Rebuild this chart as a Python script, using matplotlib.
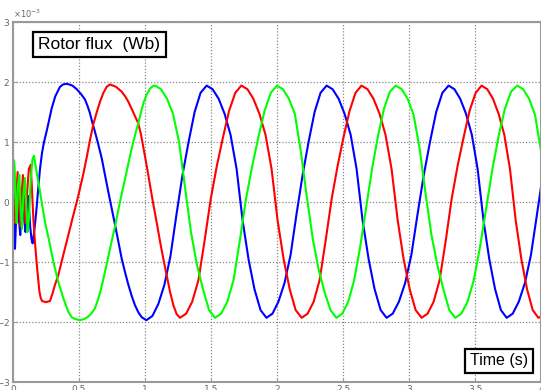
import numpy as np
import matplotlib.pyplot as plt
from matplotlib.ticker import ScalarFormatter

# Rotor flux of the three phases, (time s, flux x1e-3 Wb)
blue_flux = np.array([
    (0.000, 0.10), (0.008, -0.30), (0.015, -0.78), (0.025, -0.20), (0.035, 0.20),
    (0.045, -0.30), (0.055, -0.55), (0.065, -0.10), (0.075, 0.15), (0.085, -0.30),
    (0.095, -0.50), (0.105, -0.10), (0.115, 0.10), (0.130, -0.40), (0.140, -0.62),
    (0.149, -0.69), (0.160, -0.50), (0.170, -0.30), (0.180, -0.07), (0.190, 0.20),
    (0.205, 0.56), (0.220, 0.82), (0.235, 1.00), (0.255, 1.18), (0.275, 1.38),
    (0.293, 1.56), (0.320, 1.76), (0.356, 1.92), (0.380, 1.96), (0.410, 1.97),
    (0.450, 1.94), (0.483, 1.88), (0.515, 1.80), (0.545, 1.71), (0.565, 1.60),
    (0.583, 1.48), (0.600, 1.33), (0.621, 1.17), (0.645, 0.97), (0.672, 0.73),
    (0.697, 0.45), (0.722, 0.17), (0.748, -0.11), (0.773, -0.38), (0.800, -0.68),
    (0.823, -0.94), (0.850, -1.18), (0.874, -1.38), (0.900, -1.57), (0.924, -1.72),
    (0.950, -1.84), (0.975, -1.92), (1.010, -1.97),
    (1.056, -1.90), (1.101, -1.70), (1.147, -1.38), (1.193, -0.90), (1.239, -0.20),
    (1.284, 0.45), (1.330, 1.00), (1.376, 1.50), (1.421, 1.82), (1.467, 1.94),
    (1.512, 1.88), (1.558, 1.72), (1.603, 1.47), (1.648, 1.12), (1.694, 0.55),
    (1.739, -0.30), (1.784, -0.95), (1.829, -1.45), (1.875, -1.80), (1.920, -1.93),
    (1.966, -1.86), (2.011, -1.66), (2.057, -1.35), (2.103, -0.88), (2.148, -0.20),
    (2.194, 0.45), (2.239, 1.00), (2.285, 1.50), (2.330, 1.82), (2.376, 1.94),
    (2.421, 1.88), (2.467, 1.72), (2.512, 1.47), (2.558, 1.12), (2.603, 0.55),
    (2.648, -0.30), (2.694, -0.95), (2.739, -1.45), (2.785, -1.80), (2.830, -1.93),
    (2.877, -1.86), (2.924, -1.66), (2.971, -1.35), (3.018, -0.88), (3.065, -0.20),
    (3.112, 0.45), (3.159, 1.00), (3.206, 1.50), (3.253, 1.82), (3.300, 1.94),
    (3.344, 1.88), (3.388, 1.72), (3.432, 1.47), (3.476, 1.12), (3.520, 0.55),
    (3.564, -0.30), (3.608, -0.95), (3.652, -1.45), (3.696, -1.80), (3.740, -1.93),
    (3.786, -1.86), (3.832, -1.66), (3.878, -1.35), (3.924, -0.88), (3.970, -0.20),
    (4.000, 0.25),
])

red_flux = np.array([
    (0.000, 0.35), (0.008, 0.00), (0.015, -0.35), (0.025, 0.10), (0.035, 0.50),
    (0.045, 0.00), (0.055, -0.40), (0.065, 0.10), (0.075, 0.45), (0.085, -0.05),
    (0.095, -0.35), (0.105, 0.10), (0.120, 0.55), (0.134, 0.62), (0.144, 0.20),
    (0.154, -0.27), (0.164, -0.60), (0.174, -0.88), (0.187, -1.20), (0.200, -1.49),
    (0.210, -1.60), (0.220, -1.65), (0.250, -1.67), (0.280, -1.65), (0.300, -1.52),
    (0.318, -1.38), (0.343, -1.22), (0.370, -0.98), (0.394, -0.77), (0.425, -0.50),
    (0.457, -0.22), (0.483, 0.00), (0.508, 0.23), (0.533, 0.47), (0.558, 0.74),
    (0.585, 1.05), (0.609, 1.30), (0.635, 1.50), (0.659, 1.67), (0.685, 1.82),
    (0.710, 1.92), (0.735, 1.96),
    (0.780, 1.92), (0.823, 1.84), (0.850, 1.76), (0.874, 1.67), (0.910, 1.50),
    (0.949, 1.31), (0.970, 1.12), (0.990, 0.88), (1.015, 0.58), (1.038, 0.28),
    (1.060, 0.00), (1.090, -0.36), (1.114, -0.66), (1.140, -0.96), (1.164, -1.22),
    (1.190, -1.50), (1.215, -1.72), (1.240, -1.87), (1.265, -1.93),
    (1.312, -1.86), (1.358, -1.66), (1.405, -1.30), (1.451, -0.65), (1.498, 0.05),
    (1.544, 0.60), (1.591, 1.08), (1.637, 1.52), (1.684, 1.82), (1.730, 1.94),
    (1.776, 1.88), (1.821, 1.72), (1.867, 1.47), (1.913, 1.12), (1.959, 0.55),
    (2.004, -0.30), (2.050, -0.95), (2.096, -1.45), (2.141, -1.80), (2.187, -1.93),
    (2.232, -1.86), (2.278, -1.66), (2.323, -1.30), (2.368, -0.65), (2.414, 0.05),
    (2.459, 0.60), (2.504, 1.08), (2.550, 1.52), (2.595, 1.82), (2.640, 1.94),
    (2.686, 1.88), (2.731, 1.72), (2.777, 1.47), (2.822, 1.12), (2.868, 0.55),
    (2.914, -0.30), (2.959, -0.95), (3.005, -1.45), (3.050, -1.80), (3.096, -1.93),
    (3.141, -1.86), (3.187, -1.66), (3.232, -1.30), (3.278, -0.65), (3.323, 0.05),
    (3.368, 0.60), (3.414, 1.08), (3.459, 1.52), (3.505, 1.82), (3.550, 1.94),
    (3.593, 1.88), (3.636, 1.72), (3.679, 1.47), (3.722, 1.12), (3.765, 0.55),
    (3.808, -0.30), (3.851, -0.95), (3.894, -1.45), (3.937, -1.80), (3.980, -1.93),
    (4.000, -1.91),
])

green_flux = np.array([
    (0.000, 0.45), (0.006, 0.70), (0.012, 0.60), (0.020, 0.00), (0.028, -0.35),
    (0.038, 0.30), (0.048, 0.45), (0.058, -0.10), (0.068, -0.45), (0.078, 0.10),
    (0.090, 0.40), (0.100, -0.05), (0.110, -0.50), (0.120, -0.30), (0.135, 0.40),
    (0.148, 0.72), (0.159, 0.77), (0.170, 0.62), (0.182, 0.46), (0.192, 0.34),
    (0.217, 0.00), (0.242, -0.33), (0.275, -0.66), (0.306, -1.00), (0.343, -1.33),
    (0.381, -1.60), (0.419, -1.83), (0.445, -1.92), (0.470, -1.95), (0.507, -1.97),
    (0.540, -1.95), (0.570, -1.91), (0.596, -1.85), (0.621, -1.77), (0.640, -1.65),
    (0.659, -1.52), (0.680, -1.33), (0.700, -1.13), (0.720, -0.93), (0.740, -0.73),
    (0.757, -0.56), (0.773, -0.41), (0.790, -0.22), (0.810, 0.00), (0.830, 0.20),
    (0.850, 0.40), (0.870, 0.60), (0.890, 0.80), (0.911, 1.00), (0.930, 1.16),
    (0.949, 1.31), (0.970, 1.50), (0.990, 1.66), (1.015, 1.80), (1.038, 1.89),
    (1.058, 1.93), (1.076, 1.94),
    (1.121, 1.88), (1.167, 1.72), (1.212, 1.47), (1.258, 1.00), (1.303, 0.25),
    (1.348, -0.50), (1.394, -1.05), (1.439, -1.45), (1.485, -1.80), (1.530, -1.93),
    (1.577, -1.86), (1.624, -1.66), (1.671, -1.30), (1.718, -0.65), (1.765, 0.05),
    (1.812, 0.60), (1.859, 1.08), (1.906, 1.52), (1.953, 1.82), (2.000, 1.94),
    (2.045, 1.88), (2.090, 1.72), (2.135, 1.47), (2.180, 0.85), (2.225, 0.10),
    (2.270, -0.60), (2.315, -1.12), (2.360, -1.50), (2.405, -1.80), (2.450, -1.93),
    (2.495, -1.86), (2.540, -1.66), (2.585, -1.30), (2.630, -0.75), (2.675, -0.10),
    (2.720, 0.55), (2.765, 1.10), (2.810, 1.55), (2.855, 1.84), (2.900, 1.94),
    (2.945, 1.88), (2.990, 1.72), (3.035, 1.45), (3.080, 0.90), (3.125, 0.15),
    (3.170, -0.55), (3.215, -1.05), (3.260, -1.45), (3.305, -1.80), (3.350, -1.93),
    (3.397, -1.86), (3.444, -1.66), (3.491, -1.30), (3.538, -0.75), (3.585, -0.10),
    (3.632, 0.55), (3.679, 1.10), (3.726, 1.55), (3.773, 1.84), (3.820, 1.94),
    (3.865, 1.88), (3.910, 1.72), (3.955, 1.45), (4.000, 0.85),
])

x_ticks = [0, 0.5, 1, 1.5, 2, 2.5, 3, 3.5, 4]
x_labels = ['0', '0.5', '1', '1.5', '2', '2.5', '3', '3.5', '4']
y_ticks = [-3, -2, -1, 0, 1, 2, 3]

label_font = ['Liberation Sans Narrow', 'Liberation Sans', 'DejaVu Sans']

fig = plt.figure(figsize=(5.41, 3.90), dpi=100)
ax = fig.add_axes([13 / 541, 8 / 390, 528 / 541, 360 / 390])

for data, color in ((blue_flux, '#0000ff'), (red_flux, '#ff0000'), (green_flux, '#00ff00')):
    ax.plot(data[:, 0], data[:, 1] * 1e-3, color=color, lw=1.5)

ax.set_xlim(0, 4)
ax.set_ylim(-3e-3, 3e-3)
ax.set_xticks(x_ticks)
ax.set_xticklabels(x_labels)
ax.set_yticks([v * 1e-3 for v in y_ticks])

fmt = ScalarFormatter(useMathText=True)
fmt.set_powerlimits((0, 0))
ax.yaxis.set_major_formatter(fmt)
ax.yaxis.offsetText.set_fontsize(6)
ax.yaxis.offsetText.set_color('#666666')

# matlab style dotted grid
ax.grid(True, color='#888888', linestyle=(0, (1, 1.5)), lw=0.9)
for side in ax.spines.values():
    side.set_color('#999999')
    side.set_linewidth(1.5)
ax.tick_params(direction='in', length=3, width=0.8, color='#999999',
               labelsize=6.5, labelcolor='#666666', pad=2)

box = dict(boxstyle='square,pad=0.3', fc='white', ec='black', lw=1.6)
fig.text(99.5 / 541, 1 - 44.5 / 390, 'Rotor flux  (Wb)', family=label_font,
         fontsize=12.5, ha='center', va='center', bbox=box)
fig.text(499 / 541, 1 - 361 / 390, 'Time (s)', family=label_font,
         fontsize=11.5, ha='center', va='center', bbox=box)

fig.savefig('out.png', dpi=100)
